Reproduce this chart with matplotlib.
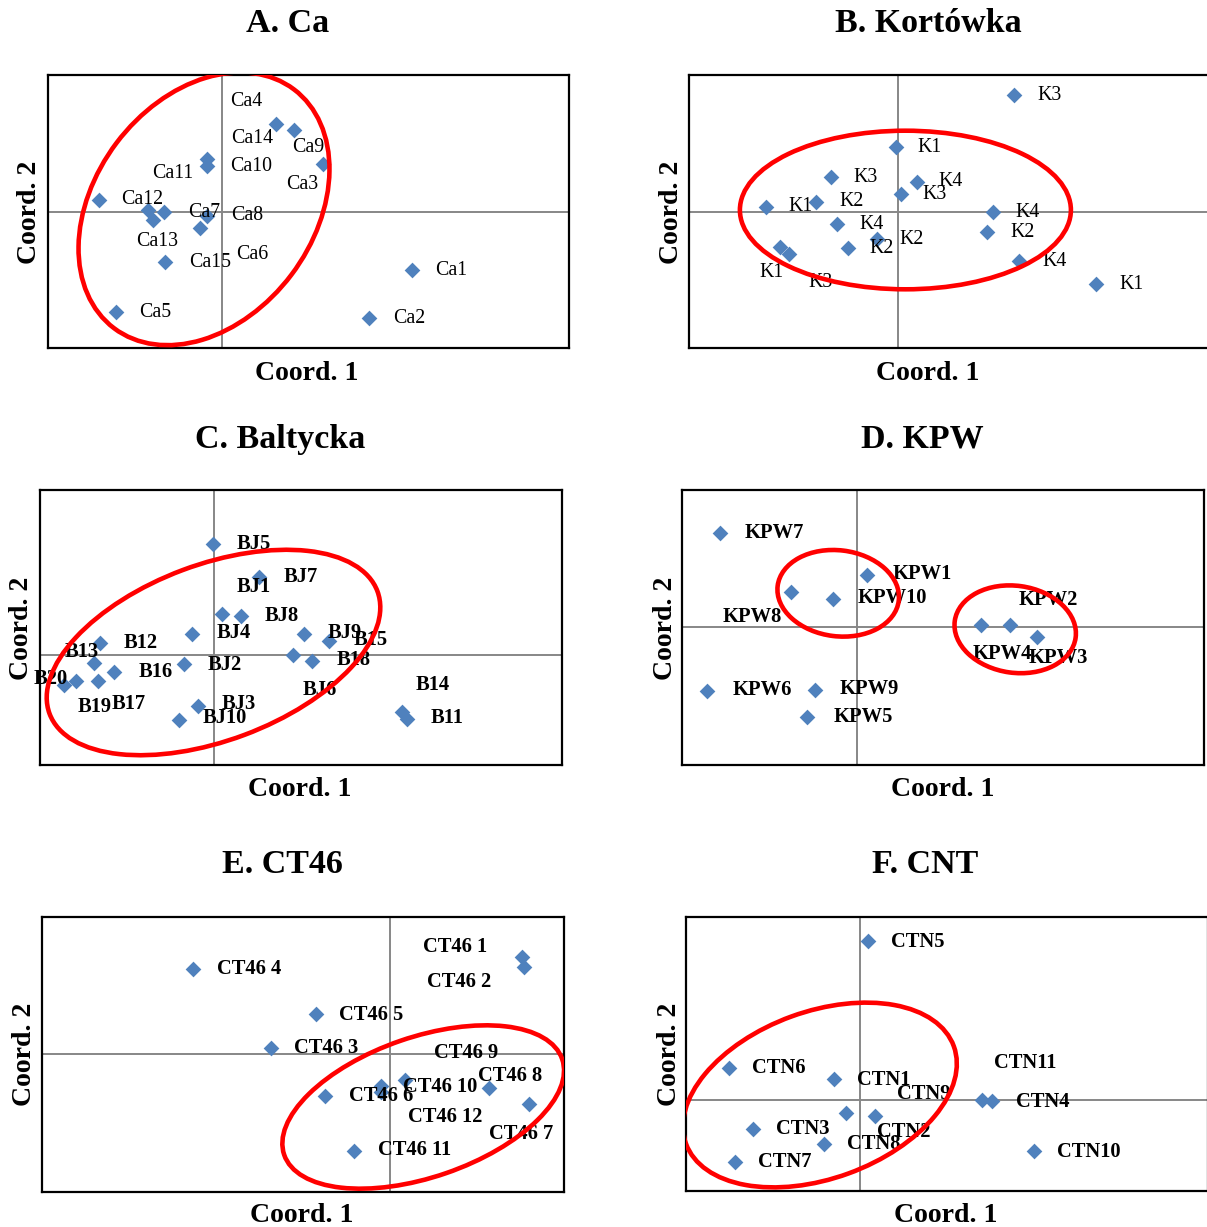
import matplotlib.pyplot as plt
from matplotlib.patches import Ellipse

plt.rcParams['font.family'] = ['Liberation Serif', 'DejaVu Serif']

W, H = 1207, 1227
BLUE = '#4F81BD'

# ---------- A. Ca ----------
ca_names = ['Ca1', 'Ca2', 'Ca3', 'Ca4', 'Ca5', 'Ca6', 'Ca7', 'Ca8', 'Ca9', 'Ca10',
            'Ca11', 'Ca12', 'Ca13', 'Ca14', 'Ca15']
ca_x = [1.90, 1.47, 1.01, 0.54, -1.06, -0.22, -0.15, -0.58, 0.72, -0.15,
        -0.15, -1.23, -0.69, -0.74, -0.57]
ca_y = [-0.58, -1.06, 0.48, 0.88, -1.00, -0.16, -0.04, 0.00, 0.82, 0.46,
        0.53, 0.12, -0.08, 0.02, -0.50]
ca_lx = [2.14, 1.72, 0.65, 0.09, -0.82, 0.15, -0.33, 0.10, 0.71, 0.09,
         -0.69, -1.00, -0.85, 0.10, -0.32]
ca_ly = [-0.58, -1.06, 0.28, 1.11, -1.00, -0.42, 0.00, -0.03, 0.65, 0.46,
         0.39, 0.13, -0.29, 0.74, -0.50]

# ---------- B. Kortówka ----------
k_names = ['K3', 'K1', 'K3', 'K4', 'K3', 'K2', 'K1', 'K4', 'K4', 'K2',
           'K2', 'K2', 'K1', 'K3', 'K4', 'K1']
k_x = [1.16, -0.02, -0.67, 0.19, 0.03, -0.82, -1.32, 0.95, -0.61, 0.89,
       -0.21, -0.50, -1.18, -1.09, 1.21, 1.98]
k_y = [1.17, 0.65, 0.35, 0.30, 0.18, 0.10, 0.05, 0.00, -0.12, -0.20,
       -0.27, -0.36, -0.35, -0.42, -0.49, -0.72]
k_lx = [1.40, 0.20, -0.44, 0.41, 0.25, -0.58, -1.09, 1.18, -0.38, 1.13,
        0.02, -0.28, -1.38, -0.89, 1.45, 2.22]
k_ly = [1.17, 0.65, 0.35, 0.31, 0.18, 0.11, 0.06, 0.00, -0.12, -0.20,
        -0.27, -0.36, -0.60, -0.70, -0.49, -0.72]

# ---------- C. Baltycka ----------
b_names = ['BJ5', 'BJ1', 'BJ4', 'BJ8', 'BJ7', 'BJ9', 'B15', 'BJ6', 'B18', 'B12',
           'B13', 'B16', 'BJ2', 'B17', 'B20', 'B19', 'BJ3', 'BJ10', 'B14', 'B11']
b_x = [-0.01, 0.45, 0.08, 0.27, -0.22, 0.90, 1.15, 0.79, 0.98, -1.14,
       -1.20, -1.00, -0.30, -1.38, -1.50, -1.16, -0.16, -0.35, 1.88, 1.93]
b_y = [1.11, 0.78, 0.41, 0.39, 0.21, 0.21, 0.14, 0.00, -0.06, 0.12,
       -0.08, -0.17, -0.09, -0.26, -0.30, -0.26, -0.51, -0.65, -0.57, -0.64]
b_lx = [0.23, 0.23, 0.03, 0.51, 0.70, 1.14, 1.40, 0.89, 1.23, -0.90,
        -1.49, -0.75, -0.06, -1.02, -1.80, -1.36, 0.08, -0.11, 2.02, 2.17]
b_ly = [1.11, 0.68, 0.22, 0.39, 0.78, 0.22, 0.15, -0.35, -0.05, 0.12,
        0.03, -0.17, -0.10, -0.49, -0.24, -0.52, -0.49, -0.63, -0.30, -0.63]

# ---------- D. KPW ----------
kpw_names = ['KPW1', 'KPW2', 'KPW3', 'KPW4', 'KPW5', 'KPW6', 'KPW7', 'KPW8', 'KPW9', 'KPW10']
kpw_x = [0.10, 1.53, 1.80, 1.24, -0.50, -1.50, -1.37, -0.66, -0.42, -0.24]
kpw_y = [0.52, 0.02, -0.10, 0.02, -0.90, -0.64, 0.94, 0.35, -0.63, 0.28]
kpw_lx = [0.35, 1.61, 1.71, 1.15, -0.24, -1.25, -1.13, -1.35, -0.18, 0.00]
kpw_ly = [0.53, 0.27, -0.31, -0.27, -0.90, -0.63, 0.94, 0.10, -0.62, 0.29]

# ---------- E. CT46 ----------
ct_names = ['CT46 1', 'CT46 2', 'CT46 3', 'CT46 4', 'CT46 5', 'CT46 6', 'CT46 7',
            'CT46 8', 'CT46 9', 'CT46 10', 'CT46 11', 'CT46 12']
ct_x = [1.32, 1.34, -1.19, -1.97, -0.74, -0.65, 1.39, 0.99, 0.15, -0.09, -0.36, -0.09]
ct_y = [0.97, 0.87, 0.06, 0.85, 0.40, -0.42, -0.50, -0.34, -0.26, -0.32, -0.97, -0.38]
ct_lx = [0.33, 0.37, -0.96, -1.73, -0.51, -0.41, 0.99, 0.88, 0.44, 0.13, -0.12, 0.18]
ct_ly = [1.07, 0.72, 0.06, 0.85, 0.39, -0.42, -0.80, -0.22, 0.01, -0.33, -0.96, -0.63]

# ---------- F. CNT ----------
ctn_names = ['CTN5', 'CTN6', 'CTN1', 'CTN11', 'CTN4', 'CTN9', 'CTN2', 'CTN3',
             'CTN8', 'CTN7', 'CTN10']
ctn_x = [0.08, -1.31, -0.26, 1.22, 1.32, -0.14, 0.15, -1.07, -0.36, -1.25, 1.74]
ctn_y = [1.59, 0.32, 0.21, 0.00, -0.01, -0.13, -0.16, -0.29, -0.44, -0.62, -0.51]
ctn_lx = [0.31, -1.08, -0.03, 1.34, 1.56, 0.37, 0.17, -0.84, -0.13, -1.02, 1.97]
ctn_ly = [1.58, 0.32, 0.20, 0.37, -0.02, 0.06, -0.32, -0.29, -0.44, -0.62, -0.52]

fig = plt.figure(figsize=(W / 100, H / 100), dpi=100)


def panel(box, xlim, ylim, names, x, y, lx, ly, rings, weight, fs):
    # box = (left, top, right, bottom) in pixels
    l, t, r, b = box
    ax = fig.add_axes([l / W, 1 - b / H, (r - l) / W, (b - t) / H])
    ax.set_xlim(*xlim)
    ax.set_ylim(*ylim)
    ax.set_xticks([])
    ax.set_yticks([])
    for s in ax.spines.values():
        s.set_linewidth(1.6)
        s.set_color('black')
    ax.axhline(0, color='#878787', lw=1.4, zorder=1)
    ax.axvline(0, color='#878787', lw=1.4, zorder=1)
    ax.scatter(x, y, marker='D', s=64, color=BLUE, linewidths=0, zorder=3)
    for name, tx, ty in zip(names, lx, ly):
        ax.text(tx, ty, name, fontsize=fs, fontweight=weight, ha='left', va='center',
                zorder=4, clip_on=False)
    for cx, cy, w, h, ang in rings:
        ax.add_patch(Ellipse((cx, cy), w, h, angle=ang, fill=False, ec='#FF0000',
                             lw=3.3, zorder=5))
    return ax


panel((47.6, 75, 568.6, 348.3), (-1.739, 3.471), (-1.360, 1.373),
      ca_names, ca_x, ca_y, ca_lx, ca_ly, [(-0.175, 0.035, 2.99, 2.19, 53)], 'normal', 14.3)
panel((689.4, 75, 1210.4, 348.3), (-2.084, 3.126), (-1.360, 1.373),
      k_names, k_x, k_y, k_lx, k_ly, [(0.076, 0.023, 3.31, 1.586, 0)], 'normal', 14.3)
panel((39.6, 490, 562, 765), (-1.739, 3.485), (-1.10, 1.65),
      b_names, b_x, b_y, b_lx, b_ly, [(0.0, 0.025, 3.50, 1.76, 20.5)], 'bold', 14.8)
panel((682.5, 490, 1204.4, 765), (-1.747, 3.472), (-1.377, 1.373),
      kpw_names, kpw_x, kpw_y, kpw_lx, kpw_ly,
      [(-0.19, 0.34, 1.22, 0.86, -7), (1.58, -0.02, 1.22, 0.87, -8)], 'bold', 14.8)
panel((42, 916.7, 564.4, 1191.7), (-3.482, 1.742), (-1.377, 1.373),
      ct_names, ct_x, ct_y, ct_lx, ct_ly, [(0.33, -0.53, 2.94, 1.40, 19)], 'bold', 14.8)
panel((685.9, 916.7, 1207.9, 1191), (-1.740, 3.480), (-0.910, 1.833),
      ctn_names, ctn_x, ctn_y, ctn_lx, ctn_ly, [(-0.40, 0.05, 2.85, 1.67, 20)], 'bold', 14.8)

# ---------- titles and axis names ----------
titles = ['A. Ca', 'B. Kortówka', 'C. Baltycka', 'D. KPW', 'E. CT46', 'F. CNT']
title_xy = [(288, 32), (928, 32), (280, 448), (922, 448), (282, 873), (925, 873)]
xlab_xy = [(307, 380), (928, 380), (300, 796), (943, 796), (302, 1222), (946, 1222)]
ylab_xy = [(29, 212), (671, 212), (22, 628), (665, 628), (25, 1054), (669, 1054)]

for t, (tx, ty) in zip(titles, title_xy):
    fig.text(tx / W, 1 - ty / H, t, fontsize=24.5, fontweight='bold', ha='center', va='baseline')
for tx, ty in xlab_xy:
    fig.text(tx / W, 1 - ty / H, 'Coord. 1', fontsize=20, fontweight='bold', ha='center', va='baseline')
for tx, ty in ylab_xy:
    fig.text(tx / W, 1 - ty / H, 'Coord. 2', fontsize=20, fontweight='bold', ha='center', va='center',
             rotation=90)

fig.savefig('out.png', dpi=100)
